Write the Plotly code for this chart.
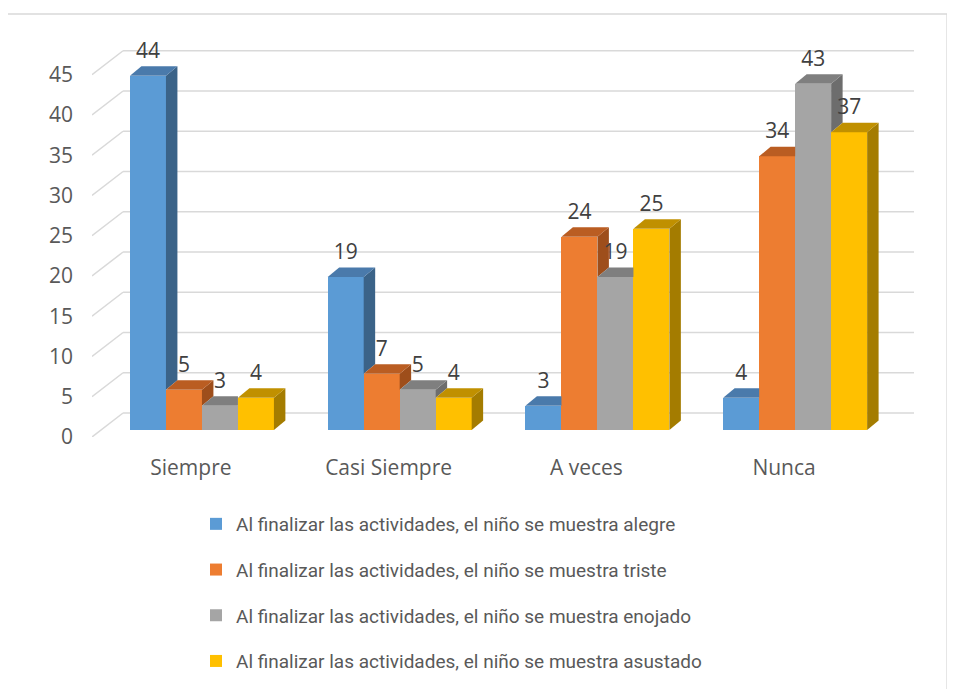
import plotly.graph_objects as go

# categories and series
categories = ["Siempre", "Casi Siempre", "A veces", "Nunca"]
series_names = [
    "Al finalizar las actividades, el niño se muestra alegre",
    "Al finalizar las actividades, el niño se muestra triste",
    "Al finalizar las actividades, el niño se muestra enojado",
    "Al finalizar las actividades, el niño se muestra asustado",
]
alegre = [44, 19, 3, 4]
triste = [5, 7, 24, 34]
enojado = [3, 5, 19, 43]
asustado = [4, 4, 25, 37]
y_ticks = [0, 5, 10, 15, 20, 25, 30, 35, 40, 45]

series = [alegre, triste, enojado, asustado]

# front / top / side colours (office palette)
front_colors = ["#5B9BD5", "#ED7D31", "#A5A5A5", "#FFC000"]
top_colors = ["#4A7AAB", "#BA5D22", "#7F7F7F", "#C09000"]
side_colors = ["#3B6388", "#9E4E1B", "#6D6D6D", "#A47C00"]

# fake 3d geometry (data units)
BAR_W = 0.182
GROUP_LEFT = -0.308
BASE = 0.87
BAR_DX = 0.058
BAR_DY = 1.18
WALL_DX = 0.157
WALL_DY = 2.98
LABEL_GAP = 1.7
X_LO, X_HI = -0.5, 3.5 + WALL_DX
Y_HI = 51.8

fig = go.Figure()

# front faces as real bars (these also give the legend)
for k, vals in enumerate(series):
    xs = [i + GROUP_LEFT + (k + 0.5) * BAR_W for i in range(len(categories))]
    fig.add_trace(go.Bar(x=xs, y=vals, base=BASE, width=BAR_W,
                         marker=dict(color=front_colors[k], line=dict(width=0)),
                         name=series_names[k], legendgroup=series_names[k],
                         hoverinfo="skip"))


def face(pts, color):
    xs = [p[0] for p in pts] + [pts[0][0]]
    ys = [p[1] for p in pts] + [pts[0][1]]
    fig.add_trace(go.Scatter(x=xs, y=ys, mode="lines", fill="toself",
                             fillcolor=color, line=dict(width=0, color=color),
                             hoverinfo="skip", showlegend=False))


# top and side faces, clipped where the next bar hides them
for i in range(len(categories)):
    for k in range(len(series)):
        v = series[k][i]
        nxt = series[k + 1][i] if k < len(series) - 1 else None
        xl = i + GROUP_LEFT + k * BAR_W
        xr = xl + BAR_W
        y0 = BASE + v
        if nxt is not None and nxt >= v:
            face([(xl, y0), (xr, y0), (xr, y0 + BAR_DY), (xl + BAR_DX, y0 + BAR_DY)], top_colors[k])
            continue
        low = BASE if nxt is None else BASE + nxt
        face([(xr, low), (xr + BAR_DX, low + BAR_DY), (xr + BAR_DX, y0 + BAR_DY), (xr, y0)], side_colors[k])
        face([(xl, y0), (xr, y0), (xr + BAR_DX, y0 + BAR_DY), (xl + BAR_DX, y0 + BAR_DY)], top_colors[k])

# value labels
for k, vals in enumerate(series):
    xs = [i + GROUP_LEFT + (k + 0.5) * BAR_W for i in range(len(categories))]
    ys = [v + BASE + BAR_DY + LABEL_GAP for v in vals]
    fig.add_trace(go.Scatter(x=xs, y=ys, mode="text", text=[str(v) for v in vals],
                             textposition="middle center",
                             textfont=dict(family="Open Sans", size=21, color="#404040"),
                             hoverinfo="skip", showlegend=False, cliponaxis=False))

# gridlines on the side and back wall
shapes = []
for v in y_ticks:
    shapes.append(dict(type="line", xref="x", yref="y", layer="below",
                       x0=X_LO, y0=v, x1=X_LO + WALL_DX, y1=v + WALL_DY,
                       line=dict(color="#D9D9D9", width=1.5)))
    shapes.append(dict(type="line", xref="x", yref="y", layer="below",
                       x0=X_LO + WALL_DX, y0=v + WALL_DY, x1=X_HI, y1=v + WALL_DY,
                       line=dict(color="#D9D9D9", width=1.5)))
# chart border
shapes.append(dict(type="rect", xref="paper", yref="paper",
                   x0=(6 - 92) / 822, x1=(947 - 92) / 822,
                   y0=(437 - 720) / 417, y1=(437 - 14) / 417,
                   line=dict(color="#D9D9D9", width=1.3)))

# page body has an 8px margin, so the figure is drawn 8px smaller
fig.update_layout(
    width=947, height=681,
    margin=dict(l=84, r=41, t=12, b=252, autoexpand=False),
    paper_bgcolor="white", plot_bgcolor="white",
    barmode="overlay", bargap=0, hovermode=False,
    shapes=shapes,
    showlegend=True,
    legend=dict(x=(196 - 92) / 822, y=(437 - 505) / 417, xanchor="left", yanchor="top",
                font=dict(family="Roboto", size=19, color="#595959"),
                tracegroupgap=18, bgcolor="rgba(0,0,0,0)"),
    font=dict(family="Open Sans", color="#595959"),
)
fig.update_xaxes(range=[X_LO, X_HI], tickvals=list(range(len(categories))), ticktext=categories,
                 showgrid=False, zeroline=False, showline=False,
                 tickfont=dict(family="Open Sans", size=21, color="#595959"),
                 ticklabelstandoff=16)
fig.update_yaxes(range=[0, Y_HI], tickvals=y_ticks, showgrid=False, zeroline=False,
                 showline=False, tickfont=dict(family="Open Sans", size=21, color="#595959"),
                 ticklabelstandoff=18)

fig.write_html("out.html")
